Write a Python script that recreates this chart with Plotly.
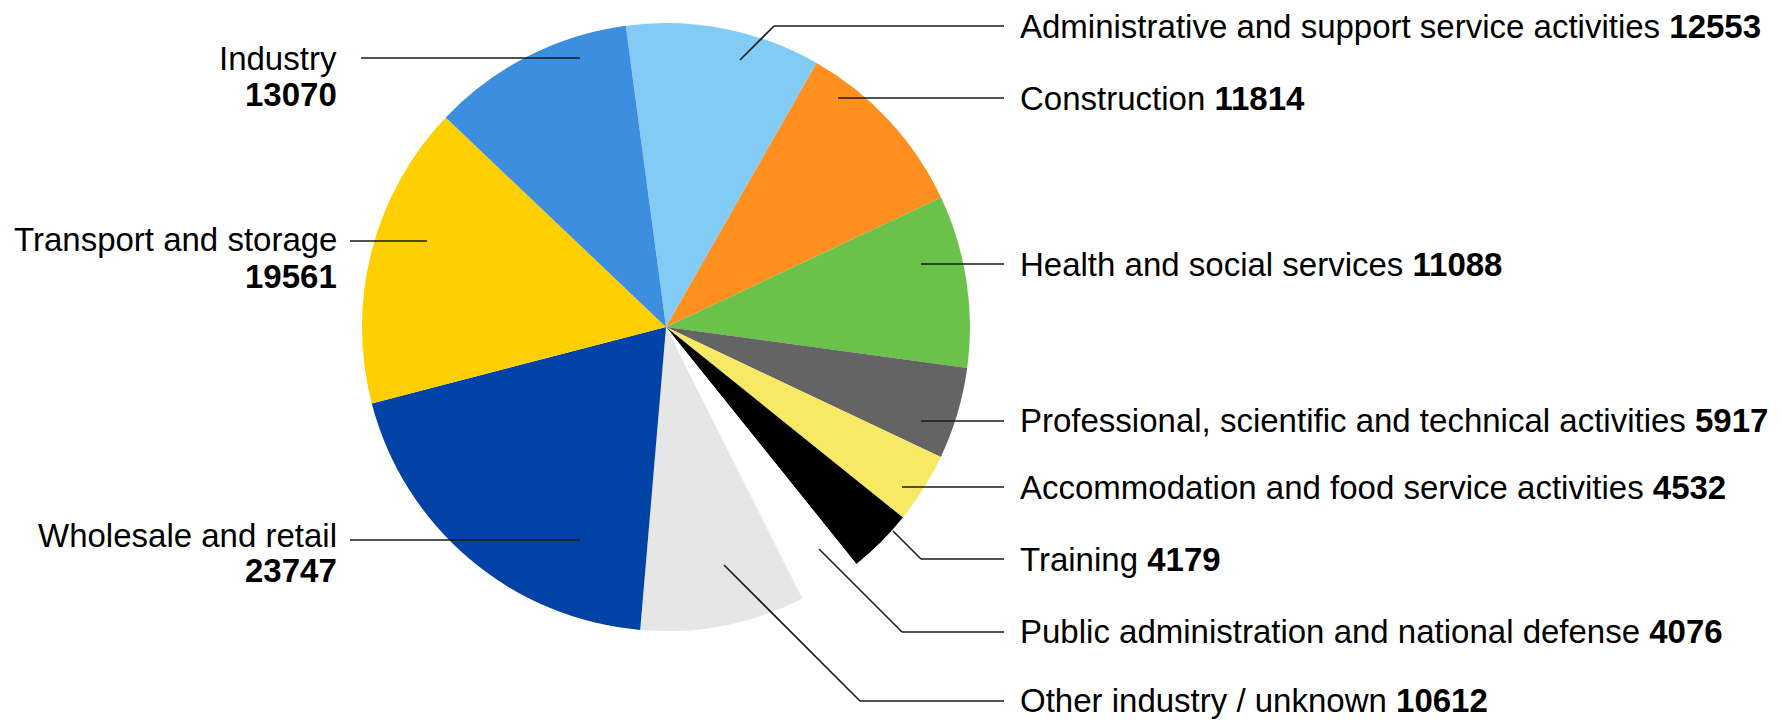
import plotly.graph_objects as go

# ---------------- data ----------------
categories = [
    "Administrative and support service activities",
    "Construction",
    "Health and social services",
    "Professional, scientific and technical activities",
    "Accommodation and food service activities",
    "Training",
    "Public administration and national defense",
    "Other industry / unknown",
    "Wholesale and retail",
    "Transport and storage",
    "Industry",
]
values = [12553, 11814, 11088, 5917, 4532, 4179, 4076, 10612, 23747, 19561, 13070]

# ---------------- styles ----------------
colors = ["#82CBF7", "#FF8F1F", "#6BC24B", "#646464", "#F8E964", "#000000",
          "#FFFFFF", "#E6E6E6", "#0042A6", "#FFCF00", "#3D8EDE"]

PAGE_MARGIN = 8                      # default body margin of the html page
W, H = 1782, 721
CX, CY, R = 666, 327, 304            # pie centre / radius in screen pixels
FONT = "Liberation Sans"
FS = 33
LINE_COLOR = "#1a1a1a"

# leader line paths (screen pixels) and label anchors for each category
right_layout = {
    0: dict(path=[(740, 60), (774, 26), (1004, 26)], ty=27),
    1: dict(path=[(838, 98), (1004, 98)], ty=99),
    2: dict(path=[(921, 264), (1004, 264)], ty=264),
    3: dict(path=[(921, 421), (1004, 421)], ty=420),
    4: dict(path=[(902, 487), (1004, 487)], ty=487),
    5: dict(path=[(893, 531), (921, 559), (1004, 559)], ty=559),
    6: dict(path=[(819, 549), (902, 632), (1004, 632)], ty=631),
    7: dict(path=[(724, 565), (860, 701), (1004, 701)], ty=700),
}
left_layout = {
    8: dict(path=[(350, 540), (580, 540)], ny=535, vy=570),
    9: dict(path=[(350, 241), (427, 241)], ny=239, vy=276),
    10: dict(path=[(361, 58), (580, 58)], ny=59, vy=95),
}
RIGHT_TEXT_X = 1019
LEFT_TEXT_X = 338


def px(x):
    return (x - PAGE_MARGIN) / W


def py(y):
    return 1 - (y - PAGE_MARGIN) / H


fig = go.Figure()
fig.add_trace(go.Pie(
    labels=categories,
    values=values,
    sort=False,
    direction="clockwise",
    rotation=-7.6,
    marker=dict(colors=colors, line=dict(width=0)),
    textinfo="none",
    hoverinfo="label+value",
    showlegend=False,
    domain=dict(x=[px(CX - R), px(CX + R)], y=[py(CY + R), py(CY - R)]),
))

shapes = []
annotations = []


def add_path(path):
    for (x0, y0), (x1, y1) in zip(path[:-1], path[1:]):
        shapes.append(dict(type="line", xref="paper", yref="paper",
                           x0=px(x0), y0=py(y0), x1=px(x1), y1=py(y1),
                           line=dict(color=LINE_COLOR, width=1.6)))


for i, spec in right_layout.items():
    add_path(spec["path"])
    annotations.append(dict(
        xref="paper", yref="paper", x=px(RIGHT_TEXT_X), y=py(spec["ty"]),
        xanchor="left", yanchor="middle", showarrow=False, borderpad=0,
        text=f"{categories[i]} <b>{values[i]}</b>",
        font=dict(family=FONT, size=FS, color="#000000"),
    ))

for i, spec in left_layout.items():
    add_path(spec["path"])
    annotations.append(dict(
        xref="paper", yref="paper", x=px(LEFT_TEXT_X), y=py(spec["ny"]),
        xanchor="right", yanchor="middle", showarrow=False, borderpad=0,
        text=categories[i],
        font=dict(family=FONT, size=FS, color="#000000"),
    ))
    annotations.append(dict(
        xref="paper", yref="paper", x=px(LEFT_TEXT_X), y=py(spec["vy"]),
        xanchor="right", yanchor="middle", showarrow=False, borderpad=0,
        text=f"<b>{values[i]}</b>",
        font=dict(family=FONT, size=FS, color="#000000"),
    ))

fig.update_layout(
    width=W, height=H,
    margin=dict(l=0, r=0, t=0, b=0),
    paper_bgcolor="#FFFFFF",
    plot_bgcolor="#FFFFFF",
    shapes=shapes,
    annotations=annotations,
)

fig.write_html("out.html")
